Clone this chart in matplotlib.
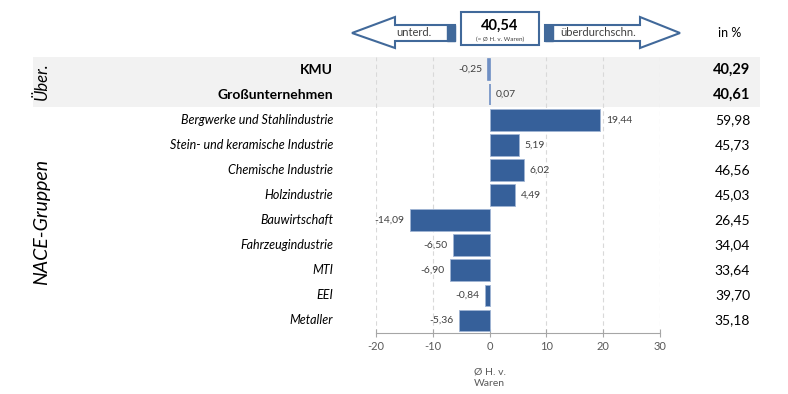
import matplotlib
matplotlib.use("Agg")
import matplotlib.pyplot as plt
from matplotlib.patches import Rectangle, Polygon
from matplotlib.transforms import blended_transform_factory

plt.rcParams['font.family'] = ['Lato', 'DejaVu Sans']

categories = ["KMU", "Großunternehmen", "Bergwerke und Stahlindustrie",
              "Stein- und keramische Industrie", "Chemische Industrie",
              "Holzindustrie", "Bauwirtschaft", "Fahrzeugindustrie", "MTI",
              "EEI", "Metaller"]
deviation = [-0.25, 0.07, 19.44, 5.19, 6.02, 4.49, -14.09, -6.50, -6.90, -0.84, -5.36]
share_pct = [40.29, 40.61, 59.98, 45.73, 46.56, 45.03, 26.45, 34.04, 33.64, 39.70, 35.18]
summary_rows = 2
average = "40,54"
xticks = [-20, -10, 0, 10, 20, 30]

W, H = 788, 394
fig = plt.figure(figsize=(W / 100, H / 100), dpi=100)
fig.patch.set_facecolor("white")

def fx(px):
    return px / W

def fy(py):
    return 1 - py / H

ax = fig.add_axes([fx(376), fy(333), fx(660) - fx(376), fy(57) - fy(333)])
ax.patch.set_alpha(0)
n = len(categories)
ax.set_xlim(-20, 30)
ax.set_ylim(n - 0.5, -0.5)

# grey band behind summary rows
bt = blended_transform_factory(fig.transFigure, ax.transData)
ax.add_patch(Rectangle((fx(33), -0.5), fx(760) - fx(33), summary_rows,
                       transform=bt, facecolor="#f2f2f2", edgecolor="none",
                       clip_on=False, zorder=0))

for t in xticks:
    if t != 0:
        ax.axvline(t, color="#d9d9d9", lw=0.8, ls=(0, (4, 3)), zorder=0.5)

main_col = "#36609a"
light_col = "#6f8fc4"
fmt = lambda v: f"{v:.2f}".replace(".", ",")

for i, (cat, v, s) in enumerate(zip(categories, deviation, share_pct)):
    summary = i < summary_rows
    ax.barh(i, v, height=0.86, color=light_col if summary else main_col,
            edgecolor=light_col if summary else "#9fb4d4",
            lw=1.2 if summary else 0.6, zorder=2)
    off = 1.0
    if v >= 0:
        ax.text(v + off, i, fmt(v), ha="left", va="center", fontsize=7.5,
                color="#404040", zorder=3)
    else:
        ax.text(v - off, i, fmt(v), ha="right", va="center", fontsize=7.5,
                color="#404040", zorder=3)
    ax.text(fx(333), i, cat, transform=bt, ha="right", va="center",
            fontsize=10 if summary else 9,
            fontweight="bold" if summary else "normal",
            fontstyle="normal" if summary else "italic", color="#000000")
    ax.text(fx(750), i, fmt(s), transform=bt, ha="right", va="center",
            fontsize=10.5 if summary else 10,
            fontweight="bold" if summary else "normal", color="#000000")

ax.set_yticks([])
for sp in ["top", "left", "right"]:
    ax.spines[sp].set_visible(False)
ax.spines["bottom"].set_color("#a6a6a6")
ax.set_xticks(xticks)
ax.set_xticklabels([str(t) for t in xticks])
ax.tick_params(axis="x", direction="inout", length=6, color="#a6a6a6",
               labelsize=8, labelcolor="#595959", pad=3)
ax.text(0, fy(378), "Ø H. v.\nWaren", transform=blended_transform_factory(ax.transData, fig.transFigure),
        ha="center", va="center", fontsize=7.5, color="#595959", linespacing=1.3)

# side group labels
fig.text(fx(42), fy(81), "Über.", rotation=90, ha="center", va="center",
         fontsize=12, fontstyle="italic", color="#000000")
fig.text(fx(42), fy(222), "NACE-Gruppen", rotation=90, ha="center", va="center",
         fontsize=14, fontstyle="italic", color="#000000")

# header arrows and box
edge = "#41699a"
def P(pts):
    return [(fx(x), fy(y)) for x, y in pts]

left_arrow = P([(352, 33), (395, 17), (395, 25), (455, 25), (455, 41), (395, 41), (395, 48)])
fig.patches.append(Polygon(left_arrow, closed=True, transform=fig.transFigure,
                           facecolor="white", edgecolor=edge, lw=1.5))
fig.patches.append(Rectangle((fx(447), fy(41)), fx(455) - fx(447), fy(25) - fy(41),
                             transform=fig.transFigure, facecolor=edge, edgecolor=edge))
fig.text(fx(414), fy(33), "unterd.", ha="center", va="center", fontsize=8, color="#404040")

right_arrow = P([(680, 33), (640, 17), (640, 25), (545, 25), (545, 41), (640, 41), (640, 48)])
fig.patches.append(Polygon(right_arrow, closed=True, transform=fig.transFigure,
                           facecolor="white", edgecolor=edge, lw=1.5))
fig.patches.append(Rectangle((fx(545), fy(41)), fx(553) - fx(545), fy(25) - fy(41),
                             transform=fig.transFigure, facecolor=edge, edgecolor=edge))
fig.text(fx(598), fy(33), "überdurchschn.", ha="center", va="center", fontsize=8, color="#404040")

fig.patches.append(Rectangle((fx(461), fy(45)), fx(539) - fx(461), fy(12) - fy(45),
                             transform=fig.transFigure, facecolor="white", edgecolor=edge, lw=1.5))
fig.text(fx(500), fy(26), average, ha="center", va="center", fontsize=10.5,
         fontweight="bold", color="#000000")
fig.text(fx(500), fy(39), "(= Ø H. v. Waren)", ha="center", va="center",
         fontsize=4.5, color="#404040")

fig.text(fx(730), fy(33), "in %", ha="center", va="center", fontsize=9, color="#000000")

fig.savefig("out.png", dpi=100, facecolor="white")
